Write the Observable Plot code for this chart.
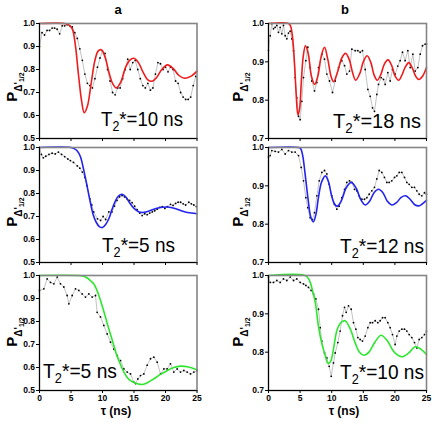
<!DOCTYPE html>
<html><head><meta charset="utf-8">
<script src="https://cdn.jsdelivr.net/npm/d3@7"></script>
<script src="https://cdn.jsdelivr.net/npm/@observablehq/plot@0.6"></script>
<style>
body{margin:0;background:#fff}
#c{position:relative;width:436px;height:423px;font-family:"Liberation Sans",Arial,sans-serif;overflow:hidden}
#c > div{position:absolute}
#c svg{display:block}
#ov{position:absolute;left:0;top:0;pointer-events:none}
</style></head><body><div id="c"></div>
<script>
// ---------- tick labels ----------
const xTicks = [0, 5, 10, 15, 20, 25];
const yTicksA = [0.5, 0.6, 0.7, 0.8, 0.9, 1.0];
const yTicksB = [0.7, 0.8, 0.9, 1.0];
const columnTitles = ["a", "b"];
const xTitle = "τ (ns)";
const annotations = ["10", "5", "5", "18", "12", "10"]; // T2* values (ns)

// ---------- panel a1 (T2*=10 ns) ----------
const a1T = [0,0.4,0.8,1.2,1.6,2.0,2.4,2.8,3.2,3.6,4.0,4.4,4.8,5.2,5.6,6.0,6.4,6.8,7.2,7.6,8.0,8.4,8.8,9.2,9.6,10.0,10.4,10.8,11.2,11.6,12.0,12.4,12.8,13.2,13.6,14.0,14.4,14.8,15.2,15.6,16.0,16.4,16.8,17.2,17.6,18.0,18.4,18.8,19.2,19.6,20.0,20.4,20.8,21.2,21.6,22.0,22.4,22.8,23.2,23.6,24.0,24.4,24.8];
const a1V = [0.90,0.96,0.95,0.97,0.97,0.98,0.98,0.975,0.955,0.99,0.99,0.995,0.99,0.985,0.96,0.935,0.89,0.84,0.78,0.74,0.73,0.72,0.76,0.81,0.85,0.88,0.87,0.80,0.75,0.70,0.69,0.72,0.72,0.76,0.80,0.845,0.80,0.83,0.84,0.80,0.76,0.73,0.72,0.74,0.71,0.72,0.78,0.83,0.825,0.80,0.81,0.79,0.81,0.80,0.75,0.74,0.70,0.68,0.67,0.67,0.68,0.73,0.77];
const a1FitT = [0,4.0,4.6,5.2,5.7,6.2,6.7,7.1,7.6,8.2,8.8,9.3,9.8,10.4,11.0,11.6,12.2,12.9,13.6,14.3,15.0,15.7,16.5,17.2,17.9,18.6,19.4,20.3,21.2,22.1,23.0,24.0,25];
const a1FitV = [1,1,0.995,0.977,0.904,0.774,0.66,0.612,0.64,0.74,0.84,0.88,0.886,0.855,0.79,0.74,0.72,0.745,0.805,0.84,0.849,0.83,0.785,0.755,0.749,0.765,0.80,0.82,0.805,0.775,0.762,0.77,0.793];

// ---------- panel a2 (T2*=5 ns) ----------
const a2T = [0,0.3,0.6,1.0,1.5,2.0,2.5,3.0,3.5,4.0,4.5,4.9,5.4,6.0,6.4,6.8,7.2,7.5,8.0,8.3,8.6,9.2,9.7,10.1,10.5,11.0,11.5,11.9,12.3,12.7,13.1,13.5,13.9,14.3,14.7,15.1,15.5,15.9,16.3,16.7,17.1,17.5,17.9,18.3,18.7,19.1,19.5,19.9,20.3,20.8,21.2,21.6,22.0,22.4,22.8,23.2,23.7,24.1,24.5,24.9];
const a2V = [1.0,0.97,0.955,0.962,0.97,0.975,0.972,0.98,0.97,0.96,0.95,0.943,0.935,0.92,0.91,0.893,0.87,0.835,0.777,0.75,0.72,0.69,0.683,0.70,0.687,0.72,0.72,0.745,0.77,0.785,0.791,0.785,0.777,0.77,0.76,0.745,0.73,0.715,0.704,0.712,0.708,0.715,0.72,0.725,0.732,0.74,0.743,0.735,0.743,0.753,0.748,0.757,0.762,0.762,0.755,0.75,0.762,0.755,0.75,0.743];
const a2FitT = [0,5.0,5.5,6.0,6.5,7.0,7.5,8.0,8.5,9.0,9.5,10.0,10.5,11.0,11.5,12.0,12.5,13.1,13.7,14.3,15.0,15.8,16.6,17.5,18.5,19.5,20.3,21.5,22.5,23.5,25];
const a2FitV = [1,1,0.995,0.985,0.96,0.905,0.84,0.77,0.71,0.675,0.656,0.652,0.665,0.69,0.73,0.765,0.788,0.797,0.785,0.76,0.735,0.72,0.718,0.725,0.735,0.74,0.741,0.735,0.725,0.717,0.712];

// ---------- panel a3 (T2*=5 ns) ----------
const a3T = [0,0.69,1.22,1.75,2.28,2.81,3.33,3.86,4.39,4.66,5.19,5.71,6.24,6.77,7.30,7.83,8.36,8.89,9.15,9.68,10.21,10.74,11.27,11.80,12.33,12.86,13.39,13.92,14.44,14.97,15.24,15.61,16.03,16.56,17.09,17.62,18.15,18.68,19.21,19.74,20.26,20.79,21.32,21.85,22.38,22.91,23.44,23.97,24.5,25.0];
const a3V = [0.935,0.942,0.985,0.97,0.964,0.993,0.964,0.95,0.913,0.877,0.913,0.942,0.935,0.92,0.906,0.92,0.906,0.913,0.84,0.82,0.783,0.746,0.71,0.68,0.652,0.63,0.594,0.58,0.572,0.536,0.53,0.55,0.565,0.572,0.61,0.638,0.645,0.623,0.572,0.594,0.594,0.616,0.58,0.594,0.58,0.587,0.58,0.572,0.58,0.587];
const a3FitT = [0,6.0,7.0,7.5,8.0,8.6,9.2,9.7,10.2,10.7,11.2,11.8,12.3,12.9,13.4,13.9,14.5,15.0,15.7,16.3,17.2,18.1,19.2,20.3,21.3,22.4,23.5,25];
const a3FitV = [1,1,0.997,0.99,0.98,0.964,0.93,0.89,0.845,0.797,0.75,0.696,0.65,0.61,0.58,0.558,0.542,0.535,0.528,0.526,0.535,0.55,0.57,0.587,0.60,0.606,0.603,0.59];

// ---------- panel b1 (T2*=18 ns) ----------
const b1T = [0,0.26,0.53,0.79,1.05,1.32,1.58,1.85,2.11,2.37,2.64,2.90,3.16,3.43,3.69,3.96,4.22,4.48,4.75,5.01,5.27,5.54,5.91,6.22,6.59,6.86,7.28,7.65,7.91,8.44,8.86,9.23,9.65,10.13,10.55,11.08,11.60,12.03,12.39,12.82,13.19,13.71,14.14,14.50,14.87,15.30,15.72,16.09,16.46,16.77,17.14,17.41,17.83,18.20,18.46,18.88,19.25,19.62,20.04,20.46,20.83,21.20,21.62,22.05,22.42,22.84,23.21,23.63,24.00,24.37,24.79,25.0];
const b1V = [0.93,0.968,1.0,0.986,0.99,0.995,0.977,0.99,0.973,0.995,0.968,0.96,0.975,0.98,0.96,0.929,0.859,0.806,0.758,0.749,0.797,0.859,0.903,0.938,0.885,0.85,0.824,0.846,0.885,0.92,0.907,0.868,0.85,0.82,0.85,0.885,0.903,0.89,0.868,0.876,0.933,0.929,0.929,0.925,0.929,0.88,0.828,0.81,0.78,0.771,0.815,0.841,0.859,0.854,0.841,0.872,0.85,0.88,0.868,0.889,0.903,0.925,0.903,0.929,0.885,0.92,0.876,0.885,0.92,0.942,0.946,0.946];
const b1FitT = [0,3.2,3.5,3.8,4.1,4.4,4.65,4.9,5.2,5.5,5.85,6.3,6.8,7.3,7.8,8.35,8.86,9.4,9.9,10.3,10.9,11.6,12.2,12.8,13.3,13.8,14.5,15.0,15.6,16.2,16.7,17.2,17.8,18.3,18.9,19.5,20.0,20.6,21.1,21.6,22.2,22.8,23.3,23.8,24.4,25];
const b1FitV = [1,1,0.993,0.965,0.9,0.81,0.762,0.775,0.85,0.915,0.942,0.92,0.862,0.841,0.862,0.915,0.938,0.905,0.862,0.848,0.872,0.91,0.922,0.905,0.872,0.852,0.872,0.9,0.916,0.898,0.866,0.852,0.868,0.893,0.905,0.89,0.864,0.852,0.865,0.885,0.898,0.882,0.862,0.854,0.863,0.885];

// ---------- panel b2 (T2*=12 ns) ----------
const b2T = [0,0.26,0.53,1.05,1.58,2.11,2.64,3.16,3.69,4.22,4.75,5.17,5.54,5.91,6.22,6.59,6.96,7.28,7.65,8.02,8.44,8.86,9.23,9.60,10.02,10.44,10.81,11.18,11.60,12.03,12.39,12.82,13.19,13.61,13.98,14.35,14.77,15.19,15.56,15.93,16.35,16.77,17.14,17.51,17.93,18.35,18.72,19.09,19.51,19.94,20.31,20.68,21.10,21.52,21.89,22.26,22.68,23.10,23.47,23.84,24.26,24.68,25.0];
const b2V = [0.975,0.979,0.992,0.99,0.988,0.995,0.983,0.992,0.988,0.988,0.979,0.948,0.913,0.869,0.843,0.817,0.812,0.83,0.874,0.913,0.935,0.94,0.931,0.904,0.874,0.852,0.839,0.847,0.869,0.891,0.909,0.913,0.909,0.891,0.887,0.874,0.865,0.865,0.869,0.878,0.887,0.896,0.918,0.94,0.935,0.922,0.909,0.909,0.913,0.922,0.926,0.935,0.935,0.922,0.909,0.904,0.896,0.896,0.887,0.878,0.874,0.882,0.878];
const b2FitT = [0,4.8,5.1,5.4,5.8,6.3,6.7,7.1,7.5,7.9,8.4,9.0,9.5,10.0,10.5,10.9,11.5,12.3,13.1,13.9,14.6,15.3,16.0,16.7,17.4,18.1,18.8,19.5,20.3,21.0,21.7,22.4,23.2,23.9,24.5,25];
const b2FitV = [1,1,0.997,0.98,0.93,0.86,0.818,0.806,0.825,0.869,0.91,0.926,0.91,0.873,0.851,0.847,0.86,0.895,0.909,0.893,0.864,0.85,0.86,0.882,0.891,0.882,0.86,0.85,0.857,0.87,0.874,0.865,0.85,0.848,0.855,0.862];

// ---------- panel b3 (T2*=10 ns) ----------
const b3T = [0,0.26,0.79,1.32,1.85,2.37,2.90,3.43,3.96,4.48,5.01,5.54,5.91,6.33,6.75,7.12,7.49,7.91,8.18,8.44,8.86,9.23,9.60,9.92,10.28,10.55,10.97,11.34,11.71,12.03,12.29,12.66,13.08,13.45,13.82,14.14,14.50,14.87,15.30,15.72,16.09,16.46,16.88,17.30,17.67,18.04,18.46,18.88,19.25,19.62,20.04,20.31,20.68,21.10,21.52,21.89,22.26,22.68,23.10,23.47,23.84,24.26,24.68,25.0];
const b3V = [0.996,0.982,0.982,0.987,0.982,0.991,0.987,0.996,0.987,0.991,0.982,0.978,0.974,0.969,0.961,0.952,0.939,0.912,0.864,0.829,0.798,0.785,0.763,0.737,0.772,0.798,0.825,0.855,0.895,0.917,0.904,0.921,0.912,0.877,0.86,0.838,0.833,0.829,0.842,0.864,0.877,0.877,0.882,0.877,0.882,0.89,0.89,0.877,0.864,0.846,0.82,0.842,0.855,0.86,0.86,0.855,0.846,0.838,0.825,0.811,0.833,0.838,0.846,0.855];
const b3FitT = [0,5.8,6.4,6.9,7.4,7.9,8.4,9.0,9.4,9.8,10.3,10.8,11.4,12.1,12.9,13.7,14.4,15.1,15.9,16.8,17.8,18.8,19.9,21.1,22.2,23.2,24.1,25];
const b3FitV = [1,1,0.99,0.965,0.93,0.868,0.825,0.79,0.771,0.775,0.81,0.855,0.876,0.882,0.862,0.825,0.8,0.792,0.8,0.825,0.844,0.83,0.8,0.788,0.798,0.814,0.808,0.794];

// ---------- layout ----------
const FONT = '"Liberation Sans", Arial, Helvetica, sans-serif';
const colLeft = [39, 268];        // frame left edge per column
const colWidth = [157.5, 158];    // frame width per column
const rowTop = [23, 147, 275];    // frame top per row
const frameH = 115;
const MT = 4, ML = 39, MR = 10;

const zip = (T, V) => T.map((t, i) => ({t, v: V[i]}));

const panels = [
  {col:0,row:0,T:a1T,V:a1V,FT:a1FitT,FV:a1FitV,color:"#ee1c1c",yd:[0.5,1],yt:yTicksA},
  {col:0,row:1,T:a2T,V:a2V,FT:a2FitT,FV:a2FitV,color:"#2323ee",yd:[0.5,1],yt:yTicksA},
  {col:0,row:2,T:a3T,V:a3V,FT:a3FitT,FV:a3FitV,color:"#2ee62e",yd:[0.5,1],yt:yTicksA},
  {col:1,row:0,T:b1T,V:b1V,FT:b1FitT,FV:b1FitV,color:"#ee1c1c",yd:[0.7,1],yt:yTicksB},
  {col:1,row:1,T:b2T,V:b2V,FT:b2FitT,FV:b2FitV,color:"#2323ee",yd:[0.7,1],yt:yTicksB},
  {col:1,row:2,T:b3T,V:b3V,FT:b3FitT,FV:b3FitV,color:"#2ee62e",yd:[0.7,1],yt:yTicksB},
];

const root = document.getElementById("c");
for (const p of panels) {
  const showX = p.row === 2;
  const MB = showX ? 22 : 6;
  const data = zip(p.T, p.V), fit = zip(p.FT, p.FV);
  const chart = Plot.plot({
    width: ML + colWidth[p.col] + MR,
    height: MT + frameH + MB,
    marginLeft: ML, marginRight: MR, marginTop: MT, marginBottom: MB,
    x: {domain: [0, 25]},
    y: {domain: p.yd},
    style: {fontFamily: FONT, fontSize: "8.5px", fontWeight: "bold", background: "transparent", color: "#000", overflow: "visible"},
    marks: [
      Plot.line(data, {x: "t", y: "v", stroke: "#a8a8a8", strokeWidth: 0.7}),
      Plot.dot(data, {x: "t", y: "v", r: 0.9, fill: "#000", stroke: "none"}),
      Plot.line(fit, {x: "t", y: "v", stroke: p.color, strokeWidth: 1.6, curve: "catmull-rom"}),
      Plot.frame({stroke: "#858585", strokeWidth: 1.6}),
      Plot.ruleX([0], {stroke: "#000", strokeWidth: 1}),
      Plot.ruleY([p.yd[0]], {stroke: "#000", strokeWidth: 1}),
      Plot.axisY({ticks: p.yt, tickSize: 3, tickPadding: 1.5, tickFormat: d3.format(".1f"), label: null}),
      Plot.axisX({ticks: xTicks, tickSize: 3, tickPadding: 1, tickFormat: showX ? (d => String(d)) : (() => ""), label: null})
    ]
  });
  const wrap = document.createElement("div");
  wrap.style.left = (colLeft[p.col] - ML) + "px";
  wrap.style.top = (rowTop[p.row] - MT) + "px";
  wrap.appendChild(chart);
  root.appendChild(wrap);
}

// ---------- text overlay ----------
const NS = "http://www.w3.org/2000/svg";
const ov = document.createElementNS(NS, "svg");
ov.setAttribute("id", "ov");
ov.setAttribute("width", 436); ov.setAttribute("height", 423);
ov.style.fontFamily = FONT;
root.appendChild(ov);
function txt(attrs, parent = ov) {
  const e = document.createElementNS(NS, "text");
  for (const k in attrs) if (k !== "text") e.setAttribute(k, attrs[k]);
  if (attrs.text != null) e.textContent = attrs.text;
  parent.appendChild(e); return e;
}
function tspan(parent, text, attrs) {
  const e = document.createElementNS(NS, "tspan");
  for (const k in attrs) e.setAttribute(k, attrs[k]);
  e.textContent = text; parent.appendChild(e); return e;
}
// column titles
txt({x: 118, y: 14, "text-anchor": "middle", "font-size": 13, "font-weight": "bold", text: columnTitles[0]});
txt({x: 345, y: 14, "text-anchor": "middle", "font-size": 13, "font-weight": "bold", text: columnTitles[1]});
// x titles
txt({x: 116, y: 415, "text-anchor": "middle", "font-size": 12, "font-weight": "bold", text: xTitle});
txt({x: 344, y: 415, "text-anchor": "middle", "font-size": 12, "font-weight": "bold", text: xTitle});
// y labels
const yLabelPos = [[17, 87], [17, 212], [17, 332], [243, 87], [243, 212], [243, 332]];
for (const [x, y] of yLabelPos) {
  const t = txt({transform: `translate(${x},${y}) rotate(-90)`, "text-anchor": "middle", "font-weight": "bold"});
  tspan(t, "P", {"font-size": 15});
  tspan(t, "Δ'", {"font-size": 10, dy: 5});
  tspan(t, "1/2", {"font-size": 7, dy: 2});
}
// T2* annotations: [x, baseline, width]
const annPos = [[101, 126, 82], [102, 252, 73], [43, 378, 74], [333, 128, 88], [340, 253, 84], [340, 379, 84]];
annPos.forEach(([x, y, w], i) => {
  const t = txt({x, y, "font-size": 21, textLength: w, lengthAdjust: "spacingAndGlyphs"});
  tspan(t, "T", {});
  tspan(t, "2", {"font-size": 14, dy: 5});
  tspan(t, "*=" + annotations[i] + " ns", {dy: -5});
});
</script>
</body></html>
